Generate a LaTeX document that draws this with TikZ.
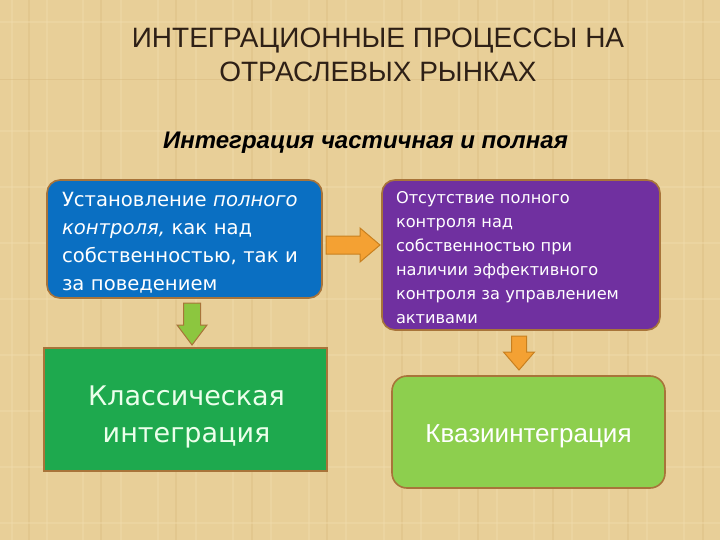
\documentclass[tikz,border=0pt]{standalone}
\usepackage{fontspec}
\setmainfont{Liberation Sans}
\newfontfamily\gothic{DejaVu Sans}
\usetikzlibrary{calc}
\definecolor{bgtan}{HTML}{E8CF98}
\definecolor{bglight}{HTML}{F1DDAE}
\definecolor{bgdark}{HTML}{D9BB80}
\definecolor{titlebrown}{HTML}{2E2016}
\definecolor{boxblue}{HTML}{0A6FC2}
\definecolor{boxpurple}{HTML}{7030A0}
\definecolor{boxgreen}{HTML}{1EA94E}
\definecolor{boxlgreen}{HTML}{8DCF4E}
\definecolor{rimbrown}{HTML}{A8743A}
\definecolor{arrorange}{HTML}{F4A133}
\definecolor{arrorangedark}{HTML}{C8801F}
\definecolor{arrgreen}{HTML}{8CC63F}
\tikzset{
  box/.style={draw=rimbrown, line width=1.6pt, inner sep=0pt},
  rbox/.style={box, rounded corners=13pt},
  boxtext/.style={inner sep=0pt, text=white},
  orarrow/.style={fill=arrorange, draw=arrorangedark, line width=1pt, line join=miter},
  grarrow/.style={fill=arrgreen, draw=rimbrown, line width=1pt, line join=miter},
  texture/.style={line width=1.2pt, opacity=0.4}
}
\begin{document}
\begin{tikzpicture}[x=1pt,y=-1pt]
\useasboundingbox (0,0) rectangle (720,540);
\fill[bgtan] (0,0) rectangle (720,540);
% faint paper texture
\foreach \x in {12,47,83,121,158,196,233,271,309,346,384,421,459,497,534,572,609,647,684}
  \draw[bglight, texture] (\x,0) -- (\x,540);
\foreach \x in {29,101,176,252,327,402,478,553,628,703}
  \draw[bgdark, texture] (\x,0) -- (\x,540);
\foreach \y in {22,131,187,243,299,355,411,467,523}
  \draw[bglight, texture] (0,\y) -- (720,\y);
\draw[bgdark, line width=1pt, opacity=0.5] (0,80) -- (720,80);

% title
\node[text=titlebrown, align=center, font=\fontsize{28}{34}\selectfont] (title) at (378,55)
  {ИНТЕГРАЦИОННЫЕ ПРОЦЕССЫ НА\\ОТРАСЛЕВЫХ РЫНКАХ};
\node[font=\fontsize{24}{28}\selectfont\bfseries\itshape] (sub) at (365.5,143)
  {Интеграция частичная и полная};

% boxes
\node[rbox, fill=boxblue, minimum width=275pt, minimum height=118pt] (blue) at (184.5,239) {};
\node[boxtext, text width=245pt, align=left, font=\gothic\fontsize{19.6}{28}\selectfont]
  (bluetext) at ($(blue.center)+(0,4)$)
  {Установление \textit{полного}\\\textit{контроля,} как над\\собственностью, так и\\за поведением};
\node[rbox, fill=boxpurple, minimum width=278pt, minimum height=150pt] (purple) at (521,255) {};
\node[boxtext, text width=250pt, align=left, font=\gothic\fontsize{16.2}{24}\selectfont]
  (purpletext) at ($(purple.center)+(0,2.5)$)
  {Отсутствие полного\\контроля над\\собственностью при\\наличии эффективного\\контроля за управлением\\активами};
\node[box, fill=boxgreen, minimum width=283pt, minimum height=123pt] (classic) at (185.5,409.5) {};
\node[boxtext, align=center, text=white!92!green, font=\gothic\fontsize{27}{37}\selectfont]
  (classictext) at ($(classic.center)+(1,7)$)
  {Классическая\\интеграция};
\node[rbox, rounded corners=15pt, fill=boxlgreen, minimum width=273pt, minimum height=112pt] (quasi) at (528.5,432) {};
\node[boxtext, font=\fontsize{26}{30}\selectfont] (quasitext) at ($(quasi.center)+(0,4)$)
  {Квазиинтеграция};

% block arrows
\coordinate (oa) at (326,245);
\draw[orarrow] (oa) ++(0,-9) -- ++(34,0) -- ++(0,-8) -- ++(20,17) -- ++(-20,17) -- ++(0,-8) -- ++(-34,0) -- cycle;
\coordinate (ga) at (192,303);
\draw[grarrow] (ga) ++(-8.5,0) -- ++(17,0) -- ++(0,22) -- ++(6.5,0) -- ++(-15,20) -- ++(-15,-20) -- ++(6.5,0) -- cycle;
\coordinate (ob) at (519,336);
\draw[orarrow] (ob) ++(-7.5,0) -- ++(15,0) -- ++(0,16) -- ++(8,0) -- ++(-15.5,18) -- ++(-15.5,-18) -- ++(8,0) -- cycle;
\end{tikzpicture}
\end{document}
